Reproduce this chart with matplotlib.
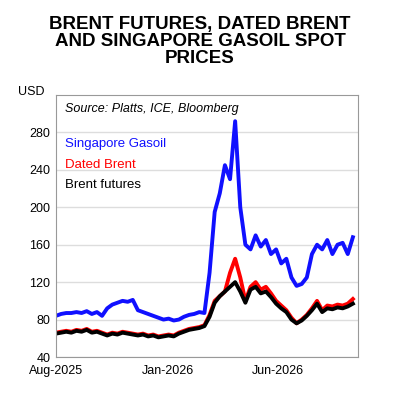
import matplotlib
matplotlib.use("Agg")
import matplotlib.pyplot as plt
import pandas as pd

plt.rcParams['font.family'] = ['Liberation Sans', 'DejaVu Sans']

dates = pd.date_range("2025-08-01", periods=59, freq="7D")
gasoil = [84,86,87,87, 88,87,89,86, 88,84, 92,96,98,100,99,101, 90,88,86,84,
          82,80,81,79, 80,83,85,86, 88,87,
          130,195,215,245,230,292,200,160,155,170,158,165,150,155,140,145,125,116,118,125,
          150,160,155,165,150,160,162,150,168]
dated = [66,67,68,67,69,68,70,67,68,66, 64,66,65,67,66,65, 64,65,63,64, 62,63,64,63,
         66,68,70,71, 72,74,
         85,100,105,110,130,145,125,100,115,120,112,115,108,100,95,90,82,76,80,85,
         92,100,90,95,94,96,95,97,102]
futures = [65,66,67,66,68,67,69,66,67,65, 63,65,64,66,65,64, 63,64,62,63, 61,62,63,62,
           65,67,69,70, 71,73,
           83,98,105,110,115,120,110,98,112,115,108,110,104,97,92,88,80,76,79,84,
           90,97,88,92,91,93,92,94,97]
yticks = [40,80,120,160,200,240,280]
xticks = ["2025-08-01","2026-01-01","2026-06-01"]
xticklabels = ["Aug-2025","Jan-2026","Jun-2026"]

fig = plt.figure(figsize=(4,4), dpi=100)
ax = fig.add_axes([0.14,0.1075,0.755,0.655])
ax.plot(dates, gasoil, color="#1010ff", lw=2.8)
ax.plot(dates, dated, color="#ff0000", lw=2.8)
ax.plot(dates, futures, color="#000000", lw=2.8)
ax.set_ylim(40,320)
ax.set_xlim(pd.Timestamp("2025-08-01"), pd.Timestamp("2026-09-18"))
ax.set_yticks(yticks)
ax.set_xticks(pd.to_datetime(xticks))
ax.set_xticklabels(xticklabels)
ax.tick_params(axis="y", length=0, labelsize=9, pad=4)
ax.tick_params(axis="x", length=0, labelsize=9, pad=6)
ax.grid(axis="y", color="#dddddd", lw=1)
ax.set_axisbelow(True)
for s in ax.spines.values():
    s.set_color("#999999")
fig.text(0.5,0.96,"BRENT FUTURES, DATED BRENT\nAND SINGAPORE GASOIL SPOT\nPRICES",
         ha="center", va="top", fontsize=13.5, fontweight="bold", linespacing=1.0)
fig.text(0.045,0.755,"USD", fontsize=9, va="bottom")
ax.text(0.03,0.97,"Source: Platts, ICE, Bloomberg", transform=ax.transAxes, fontsize=9,
        style="italic", va="top")
ax.text(0.03,0.80,"Singapore Gasoil", transform=ax.transAxes, fontsize=9.5, color="#1010ff")
ax.text(0.03,0.72,"Dated Brent", transform=ax.transAxes, fontsize=9.5, color="#ff0000")
ax.text(0.03,0.645,"Brent futures", transform=ax.transAxes, fontsize=9.5, color="black")
fig.savefig("out.png", dpi=100)
